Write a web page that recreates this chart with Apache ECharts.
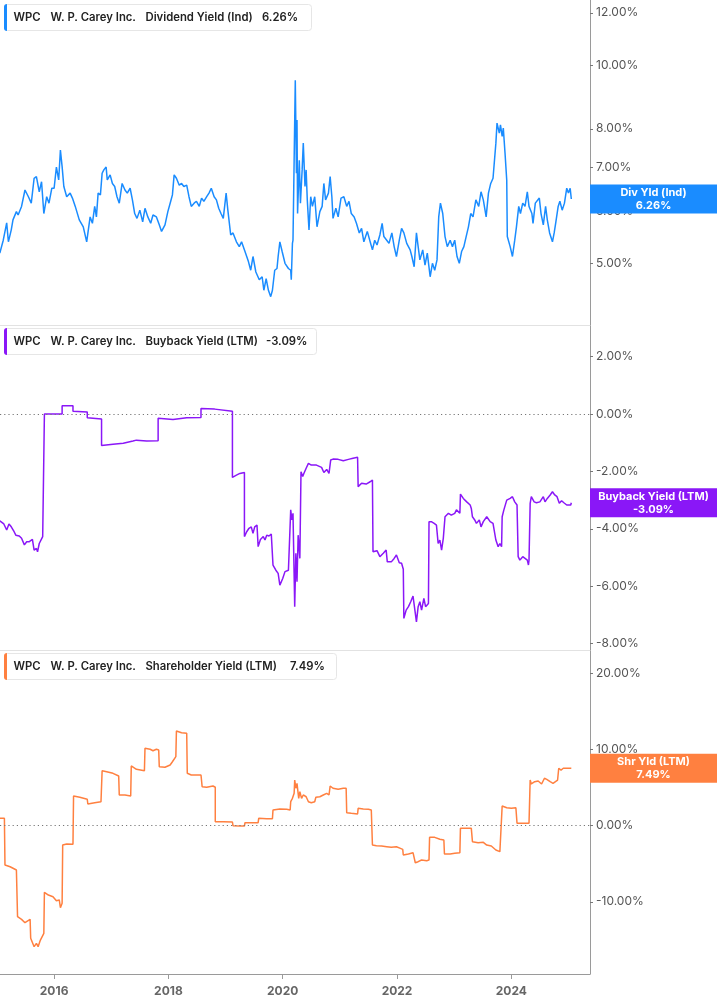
<!DOCTYPE html>
<html><head><meta charset="utf-8">
<script src="https://cdn.jsdelivr.net/npm/echarts@6/dist/echarts.min.js"></script>
<style>html,body{margin:0;padding:0;background:#fff}#c{width:717px;height:1005px}</style>
</head><body><div id="c"></div>
<script>
// Decimal-year x values
const divData = [[2015.05,5.18],[2015.11,5.42],[2015.17,5.76],[2015.20,5.39],[2015.25,5.62],[2015.28,5.82],[2015.34,5.99],[2015.37,5.92],[2015.43,6.10],[2015.49,6.46],[2015.55,6.31],[2015.60,6.17],[2015.65,6.73],[2015.69,6.77],[2015.74,6.42],[2015.78,6.65],[2015.82,5.95],[2015.87,6.31],[2015.91,6.17],[2015.96,6.50],[2016.00,6.50],[2016.04,7.00],[2016.08,6.69],[2016.11,7.43],[2016.14,7.01],[2016.17,6.54],[2016.22,6.31],[2016.28,6.39],[2016.32,6.28],[2016.37,6.10],[2016.44,5.82],[2016.51,5.68],[2016.57,5.39],[2016.63,5.88],[2016.67,5.75],[2016.71,6.10],[2016.74,5.88],[2016.77,6.39],[2016.81,6.35],[2016.84,6.85],[2016.87,6.93],[2016.91,7.00],[2016.93,6.69],[2016.98,6.81],[2017.02,6.61],[2017.06,6.54],[2017.10,6.31],[2017.14,6.17],[2017.19,6.61],[2017.24,6.46],[2017.28,6.39],[2017.33,6.50],[2017.37,6.24],[2017.41,5.95],[2017.45,5.85],[2017.50,6.02],[2017.55,5.78],[2017.59,6.06],[2017.64,5.88],[2017.69,5.75],[2017.73,5.92],[2017.79,5.88],[2017.84,5.72],[2017.88,5.59],[2017.94,5.72],[2017.99,5.99],[2018.04,6.21],[2018.07,6.35],[2018.10,6.81],[2018.14,6.73],[2018.19,6.57],[2018.23,6.61],[2018.27,6.54],[2018.32,6.57],[2018.36,6.31],[2018.40,6.10],[2018.45,6.17],[2018.49,6.21],[2018.54,6.10],[2018.58,6.28],[2018.62,6.21],[2018.67,6.31],[2018.71,6.39],[2018.75,6.50],[2018.80,6.31],[2018.84,6.24],[2018.88,6.06],[2018.92,5.95],[2018.96,5.85],[2019.01,6.39],[2019.04,6.02],[2019.09,5.52],[2019.13,5.56],[2019.19,5.39],[2019.24,5.30],[2019.28,5.39],[2019.34,5.21],[2019.40,5.03],[2019.44,4.88],[2019.48,5.12],[2019.53,4.85],[2019.59,4.72],[2019.64,4.77],[2019.67,4.55],[2019.71,4.74],[2019.75,4.55],[2019.79,4.45],[2019.82,4.55],[2019.86,4.88],[2019.90,4.91],[2019.92,5.12],[2019.95,5.39],[2019.99,5.21],[2020.04,5.00],[2020.10,4.91],[2020.14,4.88],[2020.15,4.72],[2020.17,5.36],[2020.18,5.42],[2020.20,7.17],[2020.22,9.48],[2020.24,6.85],[2020.25,8.25],[2020.26,5.95],[2020.29,7.17],[2020.31,6.17],[2020.34,6.93],[2020.36,7.61],[2020.39,6.54],[2020.41,6.93],[2020.43,6.24],[2020.46,5.62],[2020.49,6.31],[2020.52,6.10],[2020.56,6.31],[2020.60,5.68],[2020.65,5.99],[2020.69,6.10],[2020.72,6.61],[2020.75,6.24],[2020.80,6.39],[2020.83,6.77],[2020.86,6.31],[2020.88,5.85],[2020.93,6.06],[2020.97,5.88],[2021.02,6.28],[2021.07,6.31],[2021.12,6.10],[2021.16,6.21],[2021.20,5.95],[2021.25,5.88],[2021.29,5.75],[2021.34,5.56],[2021.38,5.65],[2021.42,5.39],[2021.48,5.59],[2021.53,5.39],[2021.57,5.24],[2021.61,5.42],[2021.65,5.33],[2021.70,5.52],[2021.74,5.75],[2021.77,5.49],[2021.82,5.42],[2021.86,5.36],[2021.91,5.56],[2021.95,5.30],[2021.99,5.12],[2022.04,5.42],[2022.08,5.65],[2022.12,5.56],[2022.17,5.36],[2022.23,5.24],[2022.26,5.12],[2022.30,4.94],[2022.34,5.56],[2022.37,5.30],[2022.40,5.06],[2022.45,5.24],[2022.49,4.97],[2022.53,5.18],[2022.58,4.77],[2022.62,5.00],[2022.66,4.88],[2022.70,5.06],[2022.73,5.88],[2022.76,6.17],[2022.80,5.95],[2022.84,5.49],[2022.88,5.30],[2022.93,5.42],[2022.97,5.30],[2023.01,5.42],[2023.05,5.12],[2023.09,5.00],[2023.13,5.21],[2023.17,5.30],[2023.21,5.49],[2023.25,5.68],[2023.29,5.95],[2023.33,5.88],[2023.38,6.24],[2023.43,6.10],[2023.47,6.42],[2023.51,6.24],[2023.56,5.88],[2023.60,6.39],[2023.64,6.61],[2023.68,6.73],[2023.71,6.77],[2023.73,7.61],[2023.75,8.16],[2023.79,7.88],[2023.81,8.11],[2023.84,7.79],[2023.86,8.02],[2023.89,7.35],[2023.92,6.69],[2023.93,5.49],[2023.98,5.30],[2024.02,5.12],[2024.06,5.42],[2024.09,5.68],[2024.13,6.10],[2024.16,5.95],[2024.20,6.17],[2024.24,6.10],[2024.28,6.42],[2024.31,6.10],[2024.36,5.95],[2024.38,5.75],[2024.42,6.17],[2024.45,6.21],[2024.49,6.28],[2024.52,5.95],[2024.56,5.72],[2024.60,6.10],[2024.63,5.82],[2024.67,5.56],[2024.72,5.39],[2024.75,5.56],[2024.78,5.78],[2024.82,6.10],[2024.85,6.21],[2024.89,6.02],[2024.93,6.17],[2024.97,6.50],[2025.00,6.39],[2025.03,6.50],[2025.05,6.26]];

const buybackData = [[2015.05,-3.72],[2015.12,-3.83],[2015.17,-4.04],[2015.21,-3.83],[2015.25,-3.93],[2015.30,-4.10],[2015.33,-4.22],[2015.39,-4.25],[2015.43,-4.33],[2015.48,-4.56],[2015.52,-4.45],[2015.56,-4.45],[2015.62,-4.37],[2015.65,-4.74],[2015.69,-4.68],[2015.71,-4.80],[2015.74,-4.51],[2015.76,-4.56],[2015.80,-4.27],[2015.83,-4.22],[2015.83,0.00],[2016.14,0.00],[2016.14,0.29],[2016.33,0.29],[2016.33,0.10],[2016.58,0.07],[2016.58,-0.13],[2016.83,-0.17],[2016.83,-1.10],[2017.03,-1.05],[2017.21,-1.02],[2017.38,-0.94],[2017.44,-0.91],[2017.62,-0.94],[2017.82,-0.93],[2017.82,-0.15],[2018.08,-0.19],[2018.32,-0.13],[2018.57,-0.12],[2018.57,0.19],[2018.81,0.17],[2018.83,0.14],[2019.12,0.10],[2019.12,-2.21],[2019.19,-2.13],[2019.25,-2.07],[2019.33,-2.04],[2019.33,-4.27],[2019.37,-4.10],[2019.41,-3.98],[2019.45,-3.93],[2019.48,-4.16],[2019.51,-3.93],[2019.55,-3.87],[2019.57,-4.62],[2019.61,-4.37],[2019.66,-4.27],[2019.69,-4.39],[2019.72,-4.22],[2019.76,-4.25],[2019.80,-4.18],[2019.83,-5.26],[2019.88,-5.44],[2019.92,-5.55],[2019.95,-5.96],[2020.00,-5.73],[2020.04,-5.49],[2020.10,-5.44],[2020.13,-5.38],[2020.14,-3.34],[2020.16,-3.69],[2020.18,-3.46],[2020.21,-6.71],[2020.23,-4.85],[2020.25,-5.84],[2020.27,-4.22],[2020.30,-5.03],[2020.32,-2.01],[2020.35,-2.18],[2020.37,-2.07],[2020.41,-1.89],[2020.45,-1.72],[2020.50,-1.78],[2020.59,-1.78],[2020.68,-1.86],[2020.72,-2.04],[2020.77,-1.93],[2020.81,-2.07],[2020.84,-1.60],[2020.88,-1.57],[2020.97,-1.58],[2021.06,-1.63],[2021.15,-1.58],[2021.23,-1.54],[2021.31,-1.51],[2021.32,-2.53],[2021.38,-2.41],[2021.46,-2.44],[2021.53,-2.36],[2021.57,-2.30],[2021.58,-4.80],[2021.61,-4.85],[2021.65,-4.76],[2021.70,-4.97],[2021.76,-4.85],[2021.81,-4.74],[2021.83,-5.15],[2021.86,-5.18],[2021.90,-5.15],[2021.95,-5.03],[2021.99,-4.91],[2022.04,-5.18],[2022.08,-5.20],[2022.11,-5.41],[2022.12,-7.12],[2022.16,-6.83],[2022.20,-6.71],[2022.24,-6.54],[2022.28,-6.34],[2022.31,-6.31],[2022.34,-7.24],[2022.37,-6.71],[2022.40,-6.54],[2022.43,-6.83],[2022.47,-6.42],[2022.50,-6.71],[2022.55,-6.60],[2022.56,-3.75],[2022.60,-3.75],[2022.65,-3.81],[2022.69,-3.87],[2022.72,-4.51],[2022.75,-4.39],[2022.78,-4.74],[2022.81,-4.33],[2022.84,-3.58],[2022.90,-3.46],[2022.95,-3.52],[2023.01,-3.46],[2023.04,-3.34],[2023.10,-3.46],[2023.11,-2.79],[2023.16,-2.94],[2023.22,-3.06],[2023.28,-3.17],[2023.30,-3.29],[2023.32,-3.58],[2023.36,-3.69],[2023.39,-3.81],[2023.44,-3.69],[2023.47,-3.93],[2023.51,-3.75],[2023.57,-3.58],[2023.63,-3.75],[2023.68,-3.81],[2023.71,-3.81],[2023.73,-4.39],[2023.77,-4.62],[2023.80,-4.51],[2023.83,-4.62],[2023.84,-3.58],[2023.87,-3.34],[2023.92,-3.00],[2023.98,-2.94],[2024.02,-2.88],[2024.06,-3.06],[2024.10,-3.17],[2024.12,-4.97],[2024.15,-5.09],[2024.20,-4.97],[2024.24,-5.03],[2024.28,-5.09],[2024.30,-5.26],[2024.31,-5.09],[2024.33,-3.11],[2024.35,-2.88],[2024.40,-3.06],[2024.44,-3.09],[2024.50,-3.06],[2024.56,-2.88],[2024.59,-3.06],[2024.63,-2.94],[2024.68,-2.82],[2024.72,-2.71],[2024.76,-2.82],[2024.80,-2.88],[2024.84,-3.11],[2024.88,-3.02],[2024.92,-3.09],[2024.97,-3.17],[2025.00,-3.11],[2025.04,-3.17],[2025.05,-3.09]];

const shrData = [[2015.05,0.94],[2015.13,0.94],[2015.14,-5.18],[2015.23,-5.40],[2015.34,-5.83],[2015.36,-11.95],[2015.43,-12.30],[2015.49,-12.74],[2015.58,-12.30],[2015.59,-14.78],[2015.62,-14.57],[2015.65,-15.88],[2015.69,-15.44],[2015.72,-15.88],[2015.76,-15.01],[2015.82,-14.13],[2015.83,-8.75],[2015.90,-9.11],[2015.98,-9.33],[2016.04,-9.86],[2016.09,-9.76],[2016.11,-10.77],[2016.14,-10.20],[2016.15,-2.56],[2016.22,-2.42],[2016.33,-2.46],[2016.34,3.87],[2016.45,3.70],[2016.58,3.43],[2016.59,2.82],[2016.71,2.99],[2016.82,3.12],[2016.84,7.18],[2016.92,7.05],[2017.03,6.84],[2017.13,6.49],[2017.14,4.00],[2017.24,4.00],[2017.34,3.87],[2017.35,7.80],[2017.44,7.37],[2017.58,7.18],[2017.59,10.12],[2017.68,9.99],[2017.73,9.80],[2017.79,9.99],[2017.83,9.90],[2017.84,7.71],[2017.94,7.63],[2018.03,7.93],[2018.07,8.36],[2018.10,8.58],[2018.13,9.02],[2018.14,12.39],[2018.23,12.16],[2018.32,12.08],[2018.33,6.84],[2018.40,6.62],[2018.49,6.62],[2018.57,6.62],[2018.59,5.09],[2018.67,5.01],[2018.78,5.18],[2018.82,5.01],[2018.82,0.50],[2018.96,0.50],[2019.12,0.46],[2019.13,-0.03],[2019.25,-0.07],[2019.33,-0.07],[2019.34,0.37],[2019.57,0.37],[2019.58,0.94],[2019.72,0.89],[2019.82,0.89],[2019.83,2.03],[2019.95,2.16],[2020.07,2.12],[2020.13,2.03],[2020.14,3.12],[2020.17,3.56],[2020.20,4.22],[2020.21,5.96],[2020.23,4.88],[2020.25,5.53],[2020.28,3.56],[2020.30,4.43],[2020.33,3.56],[2020.36,4.00],[2020.41,3.77],[2020.45,3.12],[2020.50,2.99],[2020.56,3.12],[2020.58,3.70],[2020.65,3.77],[2020.71,4.00],[2020.77,4.22],[2020.81,4.00],[2020.83,5.18],[2020.88,4.88],[2020.97,4.74],[2021.06,4.88],[2021.11,4.88],[2021.12,1.68],[2021.20,1.60],[2021.31,1.51],[2021.32,2.25],[2021.41,2.16],[2021.50,2.12],[2021.55,2.03],[2021.57,-2.56],[2021.64,-2.65],[2021.73,-2.69],[2021.82,-2.78],[2021.90,-2.86],[2021.99,-2.78],[2022.06,-2.99],[2022.10,-3.12],[2022.11,-3.87],[2022.20,-3.73],[2022.28,-3.56],[2022.31,-3.56],[2022.32,-4.88],[2022.37,-4.74],[2022.43,-4.52],[2022.52,-4.61],[2022.56,-4.52],[2022.57,-1.55],[2022.66,-1.55],[2022.75,-1.81],[2022.82,-1.90],[2022.83,-3.73],[2022.93,-3.73],[2023.01,-3.64],[2023.10,-3.56],[2023.11,-0.37],[2023.22,-0.37],[2023.30,-0.37],[2023.32,-2.12],[2023.42,-2.25],[2023.51,-2.20],[2023.57,-2.56],[2023.65,-2.69],[2023.73,-3.21],[2023.80,-3.43],[2023.83,-3.30],[2023.84,2.56],[2023.92,2.33],[2024.00,2.25],[2024.08,2.33],[2024.10,0.29],[2024.21,0.29],[2024.31,0.29],[2024.33,5.96],[2024.35,5.44],[2024.41,5.74],[2024.47,5.83],[2024.53,5.44],[2024.58,6.19],[2024.62,6.05],[2024.68,5.74],[2024.73,5.53],[2024.81,5.96],[2024.83,7.50],[2024.87,7.27],[2024.91,7.50],[2024.96,7.50],[2024.98,7.71],[2025.01,7.50],[2025.04,7.63],[2025.05,7.49]];

const xTicks = [2016, 2018, 2020, 2022, 2024];
const divTicks = [5, 6, 7, 8, 10, 12];
const buybackTicks = [-8, -6, -4, -2, 0, 2];
const shrTicks = [-10, 0, 10, 20];

const ticker = 'WPC';
const company = 'W. P. Carey Inc.';
const seriesNames = ['Dividend Yield (Ind)', 'Buyback Yield (LTM)', 'Shareholder Yield (LTM)'];
const shortNames = ['Div Yld (Ind)', 'Buyback Yield (LTM)', 'Shr Yld (LTM)'];
const colors = ['#1a8cff', '#8a17f7', '#ff8040'];

const allData = [divData, buybackData, shrData];
const lastVals = allData.map(d => d[d.length - 1][1]);
const pct = v => v.toFixed(2) + '%';

const chart = echarts.init(document.getElementById('c'), null, {renderer: 'canvas'});
const FONT = 'Inter, "Noto Sans", sans-serif';
const grids = [
  {left: 0, right: 127, top: 0, height: 325},
  {left: 0, right: 127, top: 325, height: 325},
  {left: 0, right: 127, top: 650, height: 324}
];
const xMin = 2015.053, xMax = 2025.377;
const xAxes = [0, 1, 2].map(i => ({
  type: 'value', gridIndex: i, min: xMin, max: xMax,
  axisLine: {show: true, onZero: false, lineStyle: {color: i === 2 ? '#9a9a9a' : '#e2e2e2', width: 1}},
  axisTick: i === 2 ? {show: true, customValues: xTicks, length: 5, lineStyle: {color: '#9a9a9a'}} : {show: false},
  axisLabel: i === 2 ? {show: true, customValues: xTicks, formatter: v => String(Math.round(v)), color: '#666', fontWeight: 'bold', fontSize: 12, fontFamily: FONT, margin: 11} : {show: false},
  splitLine: {show: false}
}));
const yCommon = (ticks) => ({
  position: 'right',
  axisLine: {show: true, onZero: false, lineStyle: {color: '#9a9a9a', width: 1}},
  axisTick: {show: true, customValues: ticks, length: 3, lineStyle: {color: '#777'}},
  axisLabel: {show: true, customValues: ticks, formatter: v => pct(v), color: '#555', fontSize: 12, fontFamily: FONT, margin: 6},
  splitLine: {show: false}
});
const yAxes = [
  Object.assign({type: 'log', gridIndex: 0, min: 4.03, max: 12.55, logBase: 10}, yCommon(divTicks)),
  Object.assign({type: 'value', gridIndex: 1, min: -8.22, max: 3.10}, yCommon(buybackTicks)),
  Object.assign({type: 'value', gridIndex: 2, min: -19.46, max: 23.0}, yCommon(shrTicks))
];
const zeroLine = {
  silent: true, symbol: 'none', animation: false,
  label: {show: false},
  lineStyle: {type: [1.2, 3], color: '#777', width: 1},
  data: [{yAxis: 0}]
};
const series = allData.map((d, i) => ({
  type: 'line', xAxisIndex: i, yAxisIndex: i, data: d,
  showSymbol: false, symbol: 'none', animation: false,
  lineStyle: {color: colors[i], width: 1.5},
  itemStyle: {color: colors[i]},
  markLine: i > 0 ? zeroLine : undefined
}));

chart.setOption({
  animation: false,
  backgroundColor: '#fff',
  grid: grids, xAxis: xAxes, yAxis: yAxes, series: series
});

// Legend boxes and end-value tags
const legendTops = [4, 328, 653];
const legendWidths = [307, 312, 332];
const valueX = [262, 266, 290];
const g = [];
for (let i = 0; i < 3; i++) {
  const t = legendTops[i];
  g.push({type: 'rect', shape: {x: 4.5, y: t + 0.5, width: legendWidths[i], height: 26, r: 3}, style: {fill: '#fff', stroke: '#e6e6e6', lineWidth: 1}, z: 100});
  g.push({type: 'rect', shape: {x: 4, y: t, width: 3, height: 27, r: [3, 0, 0, 3]}, style: {fill: colors[i]}, z: 101});
  const txts = [[ticker, 13.5], [company, 50.5], [seriesNames[i], 145.5], [pct(lastVals[i]), valueX[i]]];
  txts.forEach(([s, x]) => g.push({type: 'text', x: x, y: t + 13.5, style: {text: s, font: '600 11.3px ' + FONT, fill: '#222', align: 'left', verticalAlign: 'middle'}, z: 102}));
  const py = chart.convertToPixel({yAxisIndex: i}, lastVals[i]);
  g.push({type: 'rect', shape: {x: 590, y: py - 14.5, width: 127, height: 29}, style: {fill: colors[i]}, z: 100});
  g.push({type: 'text', x: 653.5, y: py, style: {text: shortNames[i] + '\n' + pct(lastVals[i]), font: 'bold 11px ' + FONT, fill: '#fff', align: 'center', verticalAlign: 'middle', lineHeight: 13}, z: 101});
}
chart.setOption({graphic: g});
</script>
</body></html>
